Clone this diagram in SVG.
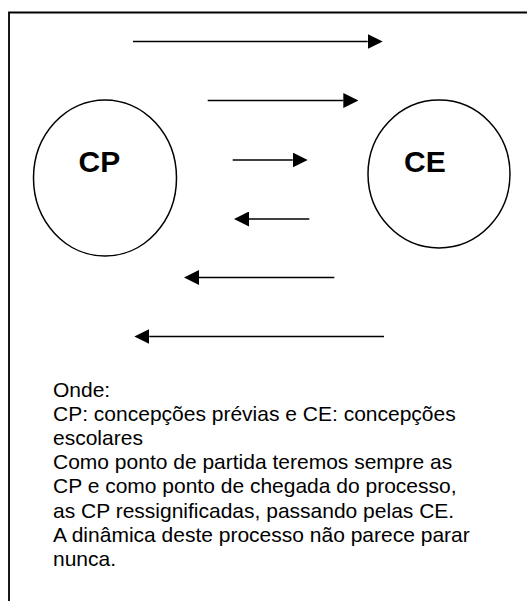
<svg xmlns="http://www.w3.org/2000/svg" width="527" height="601" viewBox="0 0 527 601">
  <defs>
    <marker id="head" viewBox="0 0 15 15" markerWidth="15" markerHeight="15" refX="0" refY="7.5" markerUnits="userSpaceOnUse" orient="auto">
      <path d="M0,0 L15,7.5 L0,15 Z" fill="#000"/>
    </marker>
  </defs>
  <style>
    .frame { fill: none; stroke: #000; stroke-width: 1.8; }
    .node { fill: #fff; stroke: #000; stroke-width: 1.5; }
    .label { font-family: "Liberation Sans", Arial, sans-serif; font-weight: bold; font-size: 30px; fill: #000; }
    .conn { stroke: #000; stroke-width: 1.5; fill: none; marker-end: url(#head); }
    .note { font-family: "Liberation Sans", Arial, sans-serif; font-size: 21px; fill: #000; }
  </style>
  <rect width="527" height="601" fill="#fff"/>
  <path class="frame" d="M9,601 L9,12.5 L527,12.5"/>

  <g id="node-cp">
    <ellipse class="node" cx="105" cy="178" rx="71.5" ry="78"/>
    <text class="label" x="78.5" y="172">CP</text>
  </g>
  <g id="node-ce">
    <ellipse class="node" cx="439" cy="174" rx="71" ry="74"/>
    <text class="label" x="404" y="172">CE</text>
  </g>

  <g id="connectors">
    <line class="conn" x1="133" y1="41.5" x2="367.7" y2="41.5"/>
    <line class="conn" x1="207.7" y1="100.5" x2="343.3" y2="100.5"/>
    <line class="conn" x1="232.7" y1="160" x2="292.7" y2="160"/>
    <line class="conn" x1="309.3" y1="219" x2="249" y2="219"/>
    <line class="conn" x1="334.3" y1="277.5" x2="199" y2="277.5"/>
    <line class="conn" x1="384" y1="336.5" x2="149.3" y2="336.5"/>
  </g>

  <g id="legend">
    <text class="note" x="53" y="397">Onde:</text>
    <text class="note" x="53" y="421">CP: concepções prévias e CE: concepções</text>
    <text class="note" x="53" y="445">escolares</text>
    <text class="note" x="53" y="469">Como ponto de partida teremos sempre as</text>
    <text class="note" x="53" y="493">CP e como ponto de chegada do processo,</text>
    <text class="note" x="53" y="518">as CP ressignificadas, passando pelas CE.</text>
    <text class="note" x="53" y="542">A dinâmica deste processo não parece parar</text>
    <text class="note" x="53" y="566">nunca.</text>
  </g>
</svg>
